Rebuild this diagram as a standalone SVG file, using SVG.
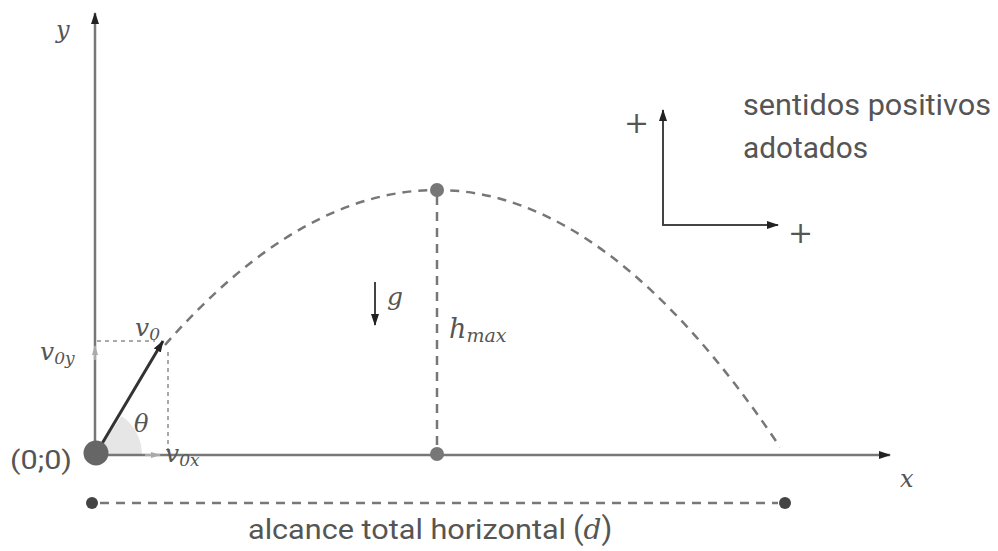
<svg xmlns="http://www.w3.org/2000/svg" width="998" height="551" viewBox="0 0 998 551">
<style>
.axis{stroke:#777;stroke-width:2.5;fill:none}
.dash{stroke:#777;stroke-width:2.5;fill:none;stroke-dasharray:9 7}
.dot{stroke:#aaa;stroke-width:2;fill:none;stroke-dasharray:4 4}
.sans{font-family:Roboto,"Liberation Sans",sans-serif;fill:#555}
.math{font-family:"DejaVu Serif","Liberation Serif",serif;font-style:italic;fill:#555}
.plus{font-family:"DejaVu Serif","Liberation Serif",serif;font-weight:300;fill:#555}
</style>
<defs>
<marker id="ah" viewBox="0 0 12 8" refX="11" refY="4" markerWidth="12" markerHeight="8" markerUnits="userSpaceOnUse" orient="auto">
<path d="M0,0 L12,4 L0,8 Z" fill="#222"/>
</marker>
<marker id="ahs" viewBox="0 0 10 6" refX="9" refY="3" markerWidth="10" markerHeight="6" markerUnits="userSpaceOnUse" orient="auto">
<path d="M0,0 L10,3 L0,6 Z" fill="#aaa"/>
</marker>
</defs>
<rect width="998" height="551" fill="#fff"/>
<g id="connectors">
<path d="M95,455 L142,455 A47,47 0 0 0 121.5,416 Z" fill="#e6e6e6"/>
<line class="axis" x1="95" y1="455" x2="95" y2="13" marker-end="url(#ah)"/>
<line class="axis" x1="95" y1="455" x2="890" y2="455" marker-end="url(#ah)"/>
<line class="dot" x1="97" y1="341" x2="155" y2="341"/>
<line class="dot" x1="168" y1="352" x2="168" y2="453"/>
<line x1="145" y1="455" x2="160" y2="455" stroke="#aaa" stroke-width="2" marker-end="url(#ahs)"/>
<line x1="95" y1="360" x2="95" y2="346" stroke="#aaa" stroke-width="2" marker-end="url(#ahs)"/>
<line x1="100" y1="447" x2="163" y2="341" stroke="#333" stroke-width="3" marker-end="url(#ah)"/>
<path class="dash" d="M165,345 Q301,190 437,190 Q608,190 780,447"/>
<line class="dash" x1="437" y1="196" x2="437" y2="452"/>
<line x1="375" y1="282" x2="375" y2="325" stroke="#444" stroke-width="2" marker-end="url(#ah)"/>
<line x1="663" y1="225" x2="663" y2="110" stroke="#444" stroke-width="2" marker-end="url(#ah)"/>
<line x1="662" y1="225" x2="778" y2="225" stroke="#444" stroke-width="2" marker-end="url(#ah)"/>
<line class="dash" x1="100" y1="503" x2="778" y2="503"/>
</g>
<g id="origin"><circle cx="96" cy="453" r="12.5" fill="#666"/><text class="sans" x="10" y="469" font-size="26" textLength="62" lengthAdjust="spacingAndGlyphs">(0;0)</text></g>
<g id="apex"><circle cx="437" cy="190" r="7" fill="#777"/></g>
<g id="foot"><circle cx="437" cy="454" r="7" fill="#777"/></g>
<g id="range-start"><circle cx="92" cy="503" r="6" fill="#444"/></g>
<g id="range-end"><circle cx="785" cy="503" r="6" fill="#444"/></g>
<g id="labels">
<text class="math" x="56" y="38" font-size="24">y</text>
<text class="math" x="900" y="487" font-size="24">x</text>
<text class="math" x="135" y="336" font-size="25">v<tspan font-size="17" dy="4">0</tspan></text>
<text class="math" x="40" y="360" font-size="25">v<tspan font-size="17" dy="4">0y</tspan></text>
<text class="math" x="165" y="462" font-size="25">v<tspan font-size="17" dy="4">0x</tspan></text>
<text class="math" x="134" y="432" font-size="24">θ</text>
<text class="math" x="387" y="305" font-size="25">g</text>
<text class="math" x="449" y="338" font-size="27">h<tspan font-size="19" dy="4">max</tspan></text>
<text class="plus" x="624" y="133" font-size="30">+</text>
<text class="plus" x="788" y="243" font-size="30">+</text>
<text class="sans" x="743" y="115" font-size="30" textLength="248" lengthAdjust="spacingAndGlyphs">sentidos positivos</text>
<text class="sans" x="743" y="158" font-size="30" textLength="125" lengthAdjust="spacingAndGlyphs">adotados</text>
<text class="sans" x="248" y="539" font-size="28"><tspan textLength="318" lengthAdjust="spacingAndGlyphs">alcance total horizontal</tspan> <tspan font-size="31">(</tspan><tspan class="math" font-size="28">d</tspan><tspan font-size="31">)</tspan></text>
</g>
</svg>
